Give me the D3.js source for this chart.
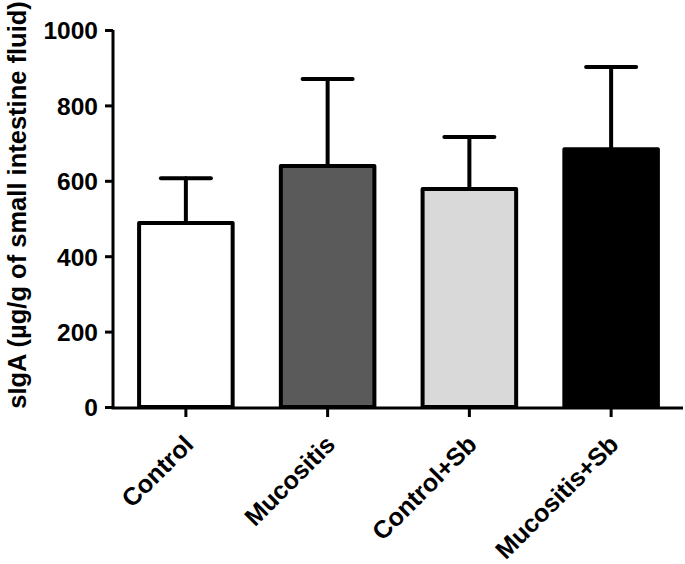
<!DOCTYPE html>
<html>
<head>
<meta charset="utf-8">
<script src="https://cdn.jsdelivr.net/npm/d3@7"></script>
<style>
  body { margin: 0; background: #fff; }
  text { font-family: "Liberation Sans", Arial, sans-serif; font-weight: bold; }
</style>
</head>
<body>
<svg id="chart" width="685" height="564"></svg>
<script>
// sIgA bar chart with error bars (mean + SD)

const groups = ["Control", "Mucositis", "Control+Sb", "Mucositis+Sb"];
const means = [488, 639, 578, 684];
const upper = [607, 870, 716, 902];
const fills = ["#ffffff", "#5a5a5a", "#d9d9d9", "#000000"];
const yTicks = [0, 200, 400, 600, 800, 1000];

const svg = d3.select("#chart");

const axisX = 113;
const axisY = 408;

const x = d3.scaleBand().domain(groups).range([115, 682])
  .paddingInner(0.34).paddingOuter(0.17);
const y = d3.scaleLinear().domain([0, 1000]).range([407, 30]);

// bars
svg.append("g").selectAll("rect")
  .data(groups)
  .join("rect")
  .attr("x", d => x(d))
  .attr("y", (d, i) => y(means[i]))
  .attr("width", x.bandwidth())
  .attr("height", (d, i) => y(0) - y(means[i]))
  .attr("fill", (d, i) => fills[i])
  .attr("stroke", "#000")
  .attr("stroke-width", 4)
  .attr("stroke-linejoin", "round");

// error bars (upper only)
const err = svg.append("g").attr("stroke", "#000").attr("stroke-width", 4).attr("stroke-linecap", "round");
groups.forEach((g, i) => {
  const cx = x(g) + x.bandwidth() / 2;
  err.append("line")
    .attr("x1", cx).attr("x2", cx)
    .attr("y1", y(means[i])).attr("y2", y(upper[i]));
  err.append("line")
    .attr("x1", cx - 25).attr("x2", cx + 25)
    .attr("y1", y(upper[i])).attr("y2", y(upper[i]));
});

// y axis
const yAxis = svg.append("g")
  .attr("transform", "translate(" + axisX + ",0)")
  .call(d3.axisLeft(y).tickValues(yTicks).tickFormat(d3.format("d"))
    .tickSize(8).tickPadding(7).tickSizeOuter(0));
yAxis.select(".domain").attr("stroke-width", 3).attr("d", "M0," + y(1000) + "V" + (axisY + 1));
yAxis.selectAll(".tick line").attr("stroke-width", 3);
yAxis.selectAll(".tick text")
  .attr("font-size", "24.5px")
  .attr("fill", "#000")
  .attr("font-family", "Liberation Sans, Arial, sans-serif")
  .attr("font-weight", "bold")
  .attr("dy", "0.36em");

// x axis
const xAxis = svg.append("g")
  .attr("transform", "translate(0," + axisY + ")")
  .call(d3.axisBottom(x).tickSize(9).tickSizeOuter(0));
xAxis.select(".domain").attr("stroke-width", 3).attr("d", "M" + (axisX - 1.5) + ",0H683");
xAxis.selectAll(".tick line").attr("stroke-width", 3);
xAxis.selectAll(".tick text").remove();

// rotated category labels
svg.append("g").selectAll("text")
  .data(groups)
  .join("text")
  .attr("transform", d => "translate(" + (x(d) + x.bandwidth() / 2 + 9) + ",446) rotate(-45)")
  .attr("text-anchor", "end")
  .attr("font-size", "25px")
  .attr("fill", "#000")
  .text(d => d);

// y axis title
svg.append("text")
  .attr("transform", "translate(26,205) rotate(-90)")
  .attr("text-anchor", "middle")
  .attr("font-size", "25.5px")
  .attr("fill", "#000")
  .text("sIgA (µg/g of small intestine fluid)");
</script>
</body>
</html>
